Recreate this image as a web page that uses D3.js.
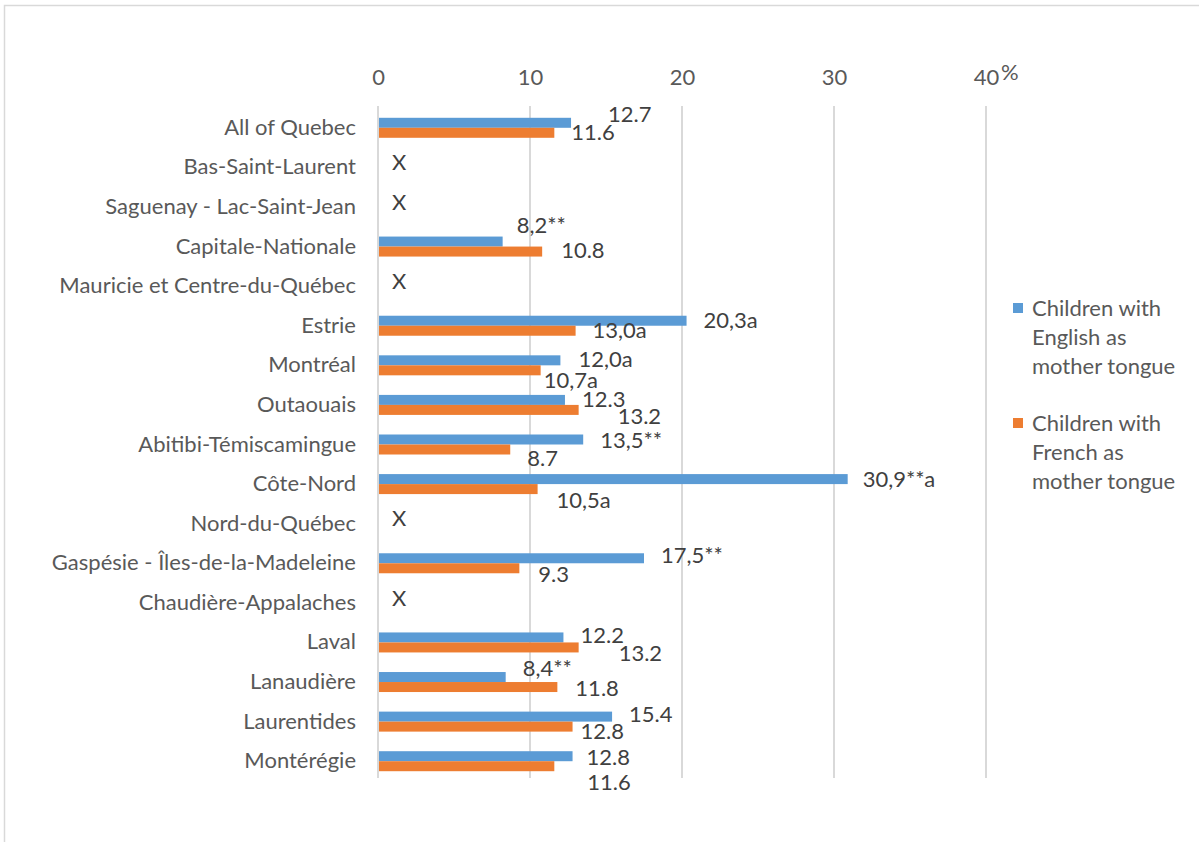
<!DOCTYPE html>
<html>
<head>
<meta charset="utf-8">
<script src="https://cdn.jsdelivr.net/npm/d3@7"></script>
<style>
  html, body { margin: 0; padding: 0; background: #fff; }
  svg { display: block; }
</style>
</head>
<body>
<svg id="chart" width="1199" height="842"></svg>
<script>
// Regions of Quebec, top to bottom
const regions = [
  "All of Quebec", "Bas-Saint-Laurent", "Saguenay - Lac-Saint-Jean", "Capitale-Nationale",
  "Mauricie et Centre-du-Québec", "Estrie", "Montréal", "Outaouais", "Abitibi-Témiscamingue",
  "Côte-Nord", "Nord-du-Québec", "Gaspésie - Îles-de-la-Madeleine", "Chaudière-Appalaches",
  "Laval", "Lanaudière", "Laurentides", "Montérégie"
];

// Percentages; null = suppressed (shown as "X")
const englishValues = [12.7, null, null, 8.2, null, 20.3, 12.0, 12.3, 13.5, 30.9, null, 17.5, null, 12.2, 8.4, 15.4, 12.8];
const frenchValues  = [11.6, null, null, 10.8, null, 13.0, 10.7, 13.2, 8.7, 10.5, null, 9.3, null, 13.2, 11.8, 12.8, 11.6];

// Value labels as published (quality flags ** and a)
const englishLabels = ["12.7", null, null, "8,2**", null, "20,3a", "12,0a", "12.3", "13,5**", "30,9**a", null, "17,5**", null, "12.2", "8,4**", "15.4", "12.8"];
const frenchLabels  = ["11.6", null, null, "10.8", null, "13,0a", "10,7a", "13.2", "8.7", "10,5a", null, "9.3", null, "13.2", "11.8", "12.8", "11.6"];

const xTicks = [0, 10, 20, 30, 40];
const seriesNames = ["Children with English as mother tongue", "Children with French as mother tongue"];
const seriesLegendLines = [["Children with", "English as", "mother tongue"], ["Children with", "French as", "mother tongue"]];

// Label placement: [gap after bar end, vertical shift from row centre], per row,
// hand-tuned so neighbouring labels do not collide
const enLabelNudge = [[37, -13], null, null, [14, -21], null, [17, -5], [18, -6], [17, -6], [17, -4], [15, -5], null, [17, -8], null, [17, -7], [17, -14], [17, -7], [14, -4]];
const frLabelNudge = [[17, 5], null, null, [19, 4], null, [17, 5], [3, 15], [39, 11], [17, 14], [19, 16], null, [19, 11], null, [40, 11], [18, 6], [8, 10], [33, 21]];

const colors = ["#5b9bd5", "#ed7d31"];
const FONT = "Lato, 'Open Sans', sans-serif";
const FS = 22;

const svg = d3.select("#chart");

// outer frame
svg.append("path")
  .attr("d", "M4.5,842 V5.5 H1199")
  .attr("fill", "none")
  .attr("stroke", "#d9d9d9")
  .attr("stroke-width", 1.5);

const x = d3.scaleLinear().domain([0, 40]).range([378, 986]);
const y = d3.scaleBand().domain(regions).range([108, 781]);

// vertical gridlines
svg.append("g").selectAll("line")
  .data(xTicks)
  .join("line")
  .attr("x1", d => x(d)).attr("x2", d => x(d))
  .attr("y1", 106).attr("y2", 778)
  .attr("stroke", "#d9d9d9")
  .attr("stroke-width", 2);

// top axis tick labels
const xAxis = d3.axisTop(x).tickValues(xTicks).tickSize(0).tickPadding(0);
const gx = svg.append("g").attr("transform", "translate(0,85)").call(xAxis);
gx.select(".domain").remove();
gx.selectAll("text")
  .attr("font-family", FONT)
  .attr("font-size", FS)
  .attr("fill", "#595959");
svg.append("text")
  .attr("x", x(40) + 15).attr("y", 80)
  .attr("font-family", FONT).attr("font-size", FS).attr("fill", "#595959")
  .text("%");

// category labels
const gy = svg.append("g").attr("transform", "translate(356,0)")
  .call(d3.axisLeft(y).tickSize(0).tickPadding(0));
gy.select(".domain").remove();
gy.selectAll("text")
  .attr("font-family", FONT)
  .attr("font-size", FS)
  .attr("fill", "#595959")
  .attr("dy", "0.32em");

const barH = 10;
const rows = regions.map((r, i) => ({
  region: r,
  en: englishValues[i], fr: frenchValues[i],
  enLabel: englishLabels[i], frLabel: frenchLabels[i],
  enNudge: enLabelNudge[i], frNudge: frLabelNudge[i]
}));
const center = d => y(d.region) + y.bandwidth() / 2;

// English bars
svg.append("g").selectAll("rect")
  .data(rows.filter(d => d.en !== null))
  .join("rect")
  .attr("x", x(0) + 1)
  .attr("y", d => center(d) - barH)
  .attr("width", d => x(d.en) - x(0) - 1)
  .attr("height", barH)
  .attr("fill", colors[0]);

// French bars
svg.append("g").selectAll("rect")
  .data(rows.filter(d => d.fr !== null))
  .join("rect")
  .attr("x", x(0) + 1)
  .attr("y", d => center(d))
  .attr("width", d => x(d.fr) - x(0) - 1)
  .attr("height", barH)
  .attr("fill", colors[1]);

// value labels
const labelStyle = sel => sel
  .attr("font-family", FONT)
  .attr("font-size", FS)
  .attr("fill", "#404040")
  .attr("dy", "0.35em");

svg.append("g").selectAll("text")
  .data(rows.filter(d => d.en !== null))
  .join("text")
  .attr("x", d => x(d.en) + d.enNudge[0])
  .attr("y", d => center(d) + d.enNudge[1])
  .text(d => d.enLabel)
  .call(labelStyle);

svg.append("g").selectAll("text")
  .data(rows.filter(d => d.fr !== null))
  .join("text")
  .attr("x", d => x(d.fr) + d.frNudge[0])
  .attr("y", d => center(d) + d.frNudge[1])
  .text(d => d.frLabel)
  .call(labelStyle);

// suppressed estimates
svg.append("g").selectAll("text")
  .data(rows.filter(d => d.en === null && d.fr === null))
  .join("text")
  .attr("x", x(0) + 14)
  .attr("y", d => center(d) - 5)
  .text("X")
  .call(labelStyle);

// legend
const legend = svg.append("g").attr("transform", "translate(1013,0)");
const legendTop = [303, 418];
seriesNames.forEach((name, i) => {
  const g = legend.append("g").attr("transform", `translate(0,${legendTop[i]})`);
  g.append("rect").attr("width", 10).attr("height", 10).attr("fill", colors[i]);
  const t = g.append("text")
    .attr("font-family", FONT).attr("font-size", FS).attr("fill", "#595959");
  seriesLegendLines[i].forEach((line, j) => {
    t.append("tspan").attr("x", 19).attr("y", 13 + j * 29).text(line);
  });
});
</script>
</body>
</html>
